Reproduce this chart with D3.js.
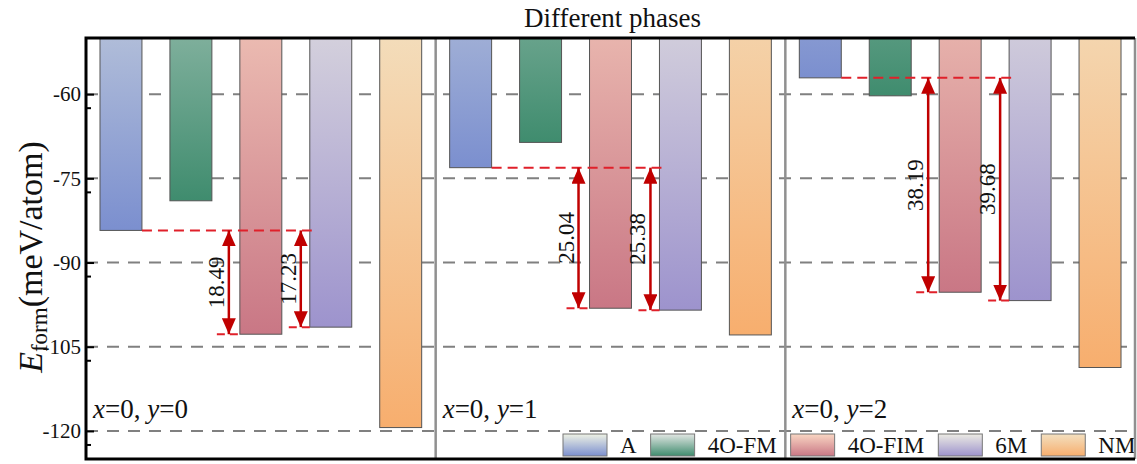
<!DOCTYPE html>
<html>
<head>
<meta charset="utf-8">
<script src="https://cdn.jsdelivr.net/npm/d3@7/dist/d3.min.js"></script>
<style>
  body { margin: 0; background: #fff; }
  svg { display: block; font-family: "Liberation Serif", "DejaVu Serif", serif; }
</style>
</head>
<body>
<svg width="1137" height="464"></svg>
<script>

/// Data ///
var panels = ["x=0, y=0", "x=0, y=1", "x=0, y=2"];
var phases = ["A", "4O-FM", "4O-FIM", "6M", "NM"];
var valA      = [-84.28, -73.10, -57.10];
var val4OFM   = [-79.00, -68.60, -60.30];
var val4OFIM  = [-102.77, -98.14, -95.29];
var val6M     = [-101.51, -98.48, -96.78];
var valNM     = [-119.40, -102.90, -108.70];
var diffFIM   = ["18.49", "25.04", "38.19"];
var diff6M    = ["17.23", "25.38", "39.68"];
var yTicks    = [-120, -105, -90, -75, -60];

var series = [valA, val4OFM, val4OFIM, val6M, valNM];

// bottom colour and pale colour of each gradient
var fullColor  = ["#7b8fcf", "#3f8c6e", "#c97785", "#9d93cd", "#f7ae6e"];
var paleColor  = ["#eef2e4", "#e2e6e3", "#f9d6c3", "#ecebe3", "#f3e0c0"];

/// Settings ///
var svg = d3.select("svg");
// (window.top is read-only, so plot edges get their own names)
var pLeft = 86, pRight = 1135, pTop = 38, pBottom = 459;

var y = d3.scaleLinear().domain([-125, -50]).range([pBottom, pTop]);

var xPanel = d3.scaleBand().domain(panels).range([pLeft, pRight]);
var xPhase = d3.scaleBand().domain(phases)
    .range([0, xPanel.bandwidth()])
    .paddingInner(0.4).paddingOuter(0.2);

var defs = svg.append("defs");

// bars: one gradient per bar, anchored at the bar bottom
var bars = [];
panels.forEach(function(p, i) {
  phases.forEach(function(ph, j) {
    bars.push({panel: p, pi: i, phase: ph, k: j, value: series[j][i]});
  });
});

bars.forEach(function(d, n) {
  var gy = y(d.value);
  var g = defs.append("linearGradient")
      .attr("id", "bar" + n)
      .attr("gradientUnits", "userSpaceOnUse")
      .attr("x1", 0).attr("x2", 0)
      .attr("y1", gy).attr("y2", gy - (pBottom - pTop));
  g.append("stop").attr("offset", 0).attr("stop-color", fullColor[d.k]);
  g.append("stop").attr("offset", 1).attr("stop-color", paleColor[d.k]);
});

phases.forEach(function(ph, j) {
  var g = defs.append("linearGradient")
      .attr("id", "leg" + j)
      .attr("x1", 0).attr("x2", 0).attr("y1", 0).attr("y2", 1);
  g.append("stop").attr("offset", 0).attr("stop-color", paleColor[j]);
  g.append("stop").attr("offset", 1).attr("stop-color", fullColor[j]);
});

var arrowColor = "#c00000";
defs.append("marker")
    .attr("id", "head")
    .attr("viewBox", "0 0 16 14")
    .attr("refX", 16).attr("refY", 7)
    .attr("markerWidth", 16).attr("markerHeight", 14)
    .attr("markerUnits", "userSpaceOnUse")
    .attr("orient", "auto-start-reverse")
  .append("path")
    .attr("d", "M0,0 L16,7 L0,14 Z")
    .attr("fill", arrowColor);

/// Grid ///
svg.append("g")
  .selectAll("line")
  .data(yTicks)
  .enter().append("line")
    .attr("x1", pLeft).attr("x2", pRight)
    .attr("y1", function(d) { return y(d); })
    .attr("y2", function(d) { return y(d); })
    .attr("stroke", "#808080")
    .attr("stroke-width", 2)
    .attr("stroke-dasharray", "12,9");

/// Bars ///
svg.append("g")
  .selectAll("rect")
  .data(bars)
  .enter().append("rect")
    .attr("x", function(d) { return xPanel(d.panel) + xPhase(d.phase); })
    .attr("y", pTop)
    .attr("width", xPhase.bandwidth())
    .attr("height", function(d) { return y(d.value) - pTop; })
    .attr("fill", function(d, n) { return "url(#bar" + n + ")"; })
    .attr("stroke", "#555")
    .attr("stroke-width", 1);

/// Annotations ///
var ann = svg.append("g");
panels.forEach(function(p, i) {
  var x0 = xPanel(p);
  var refY = y(valA[i]);
  var aRight = x0 + xPhase("A") + xPhase.bandwidth();
  var mLeft = x0 + xPhase("6M");

  ann.append("line")
      .attr("x1", aRight).attr("x2", mLeft + 2)
      .attr("y1", refY).attr("y2", refY)
      .attr("stroke", "#e0202a").attr("stroke-width", 2)
      .attr("stroke-dasharray", "10,6");

  [["4O-FIM", val4OFIM[i], diffFIM[i], 11], ["6M", val6M[i], diff6M[i], 9]].forEach(function(a) {
    var bx = x0 + xPhase(a[0]);
    var ax = bx - a[3];
    var by = y(a[1]);

    ann.append("line")
        .attr("x1", ax - 12).attr("x2", bx)
        .attr("y1", by).attr("y2", by)
        .attr("stroke", "#e0202a").attr("stroke-width", 2)
        .attr("stroke-dasharray", "8,5");

    ann.append("line")
        .attr("x1", ax).attr("x2", ax)
        .attr("y1", refY).attr("y2", by)
        .attr("stroke", arrowColor).attr("stroke-width", 2.5)
        .attr("marker-start", "url(#head)")
        .attr("marker-end", "url(#head)");

    ann.append("text")
        .attr("transform", "translate(" + (ax - 5) + "," + ((refY + by) / 2) + ") rotate(-90)")
        .attr("text-anchor", "middle")
        .attr("font-size", 23)
        .attr("fill", "#111")
        .text(a[2]);
  });

  // panel label with italic x and y
  var parts = p.split(", ");
  var t = svg.append("text")
      .attr("x", x0 + 7)
      .attr("y", pBottom - 41)
      .attr("font-size", 27)
      .attr("fill", "#111");
  t.append("tspan").attr("font-style", "italic").text("x");
  t.append("tspan").text("=" + parts[0].split("=")[1] + ", ");
  t.append("tspan").attr("font-style", "italic").text("y");
  t.append("tspan").text("=" + parts[1].split("=")[1]);
});

/// Legend ///
var legend = svg.append("g");
var lx = 563;
phases.forEach(function(ph, j) {
  legend.append("rect")
      .attr("x", lx).attr("y", pBottom - 25)
      .attr("width", 44).attr("height", 22)
      .attr("fill", "url(#leg" + j + ")")
      .attr("stroke", "#777").attr("stroke-width", 1);
  var lt = legend.append("text")
      .attr("x", lx + 57).attr("y", pBottom - 6)
      .attr("font-size", 23)
      .attr("fill", "#111")
      .text(ph);
  lx = lx + 57 + lt.node().getComputedTextLength() + 14;
});

/// Frame and axis ///
svg.selectAll(".sep")
  .data(panels.slice(1))
  .enter().append("line")
    .attr("x1", function(d) { return xPanel(d); })
    .attr("x2", function(d) { return xPanel(d); })
    .attr("y1", pTop).attr("y2", pBottom)
    .attr("stroke", "#909090").attr("stroke-width", 2.5);

svg.append("line")
    .attr("x1", pRight).attr("x2", pRight).attr("y1", pTop).attr("y2", pBottom)
    .attr("stroke", "#909090").attr("stroke-width", 2.5);

// plain hyphen minus, like the original
var axis = d3.axisLeft(y).tickValues(yTicks).tickSize(-8).tickPadding(5)
    .tickFormat(function(d) { return String(d); });
var ag = svg.append("g")
    .attr("transform", "translate(" + pLeft + ",0)")
    .call(axis);
ag.select(".domain").remove();
ag.selectAll(".tick line").attr("stroke", "#000").attr("stroke-width", 2);
ag.selectAll(".tick text")
    .attr("font-family", "Liberation Serif, serif")
    .attr("font-size", 21)
    .attr("fill", "#111");

// minor ticks
svg.append("g")
  .selectAll("line")
  .data(d3.range(-122.5, -50, 15))
  .enter().append("line")
    .attr("x1", pLeft).attr("x2", pLeft + 5)
    .attr("y1", function(d) { return y(d); })
    .attr("y2", function(d) { return y(d); })
    .attr("stroke", "#000").attr("stroke-width", 2);

svg.append("path")
    .attr("d", "M" + pRight + "," + pTop + " H" + pLeft + " V" + pBottom + " H" + pRight)
    .attr("fill", "none")
    .attr("stroke", "#000")
    .attr("stroke-width", 3);

/// Titles ///
svg.append("text")
    .attr("x", (pLeft + pRight) / 2 + 2)
    .attr("y", 27)
    .attr("text-anchor", "middle")
    .attr("font-size", 27)
    .attr("fill", "#111")
    .text("Different phases");

var yl = svg.append("text")
    .attr("transform", "translate(42," + 257 + ") rotate(-90)")
    .attr("text-anchor", "middle")
    .attr("font-size", 34)
    .attr("fill", "#111");
yl.append("tspan").attr("font-style", "italic").text("E");
yl.append("tspan").attr("font-size", 23).attr("dy", 5).text("form");
yl.append("tspan").attr("dy", -5).text("(meV/atom)");

</script>
</body>
</html>
